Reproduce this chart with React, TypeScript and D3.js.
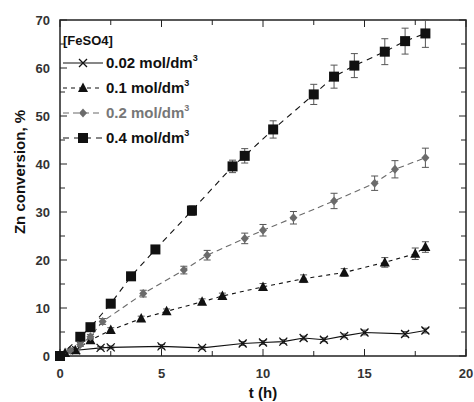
import React, {useEffect, useRef} from "react";
import * as d3 from "d3";

// t (h) and conversion (%)
const tX = [0, 0.8, 2, 2.5, 5, 7, 9, 10, 11, 12, 13, 14, 15, 17, 18];
const vX = [0, 1.2, 1.7, 1.8, 2.0, 1.7, 2.6, 2.8, 3.0, 3.75, 3.4, 4.2, 4.9, 4.6, 5.3];
const eX = [0, 0.3, 0.3, 0.3, 0.4, 0.3, 0.4, 0.4, 0.4, 0.4, 0.4, 0.4, 0.5, 0.5, 0.5];

const tTri = [0, 0.25, 0.75, 1.5, 2.5, 4, 5.25, 7, 8, 10, 12, 14, 16, 17.5, 18];
const vTri = [0, 0.6, 1.2, 3.3, 5.4, 7.8, 9.3, 11.3, 12.5, 14.4, 16.1, 17.4, 19.5, 21.3, 22.7];
const eTri = [0, 0.2, 0.3, 0.4, 0.5, 0.5, 0.5, 0.6, 0.6, 0.7, 0.8, 0.8, 1.0, 1.2, 1.1];

const tDia = [0, 0.5, 1, 1.5, 2.1, 4.1, 6.1, 7.25, 9.1, 10, 11.5, 13.5, 15.5, 16.5, 18];
const vDia = [0, 1.2, 2.4, 4.0, 7.2, 13.0, 17.9, 21.0, 24.5, 26.2, 28.8, 32.3, 36.0, 38.9, 41.3];
const eDia = [0, 0.3, 0.4, 0.5, 0.6, 0.7, 0.8, 1.0, 1.1, 1.2, 1.3, 1.6, 1.5, 1.8, 2.0];

const tSq = [0, 1, 1.5, 2.5, 3.5, 4.7, 6.5, 8.5, 9.1, 10.5, 12.5, 13.5, 14.5, 16, 17, 18];
const vSq = [0, 4.0, 6.0, 10.9, 16.6, 22.2, 30.3, 39.5, 41.7, 47.2, 54.5, 58.2, 60.5, 63.4, 65.6, 67.2];
const eSq = [0, 0.4, 0.5, 0.6, 0.7, 0.8, 1.0, 1.3, 1.5, 1.8, 2.1, 2.4, 2.5, 2.7, 2.7, 2.9];

const legendLabels = ["0.02", "0.1", "0.2", "0.4"];
const xTicks = [0, 5, 10, 15, 20];
const yTicks = [0, 10, 20, 30, 40, 50, 60, 70];

type Series = {t: number[]; v: number[]; e: number[]; marker: string; color: string; dash: string};

const series: Series[] = [
    {t: tX, v: vX, e: eX, marker: "x", color: "#111", dash: "none"},
    {t: tTri, v: vTri, e: eTri, marker: "tri", color: "#111", dash: "4,4"},
    {t: tDia, v: vDia, e: eDia, marker: "dia", color: "#6b6b6b", dash: "6,4"},
    {t: tSq, v: vSq, e: eSq, marker: "sq", color: "#111", dash: "6,5"},
];

const W = 474;
const H = 402;
const margin = {top: 20, right: 8, bottom: 46, left: 60};
const font = "'Liberation Sans', Arial, sans-serif";

function drawMarker(g: d3.Selection<SVGGElement, unknown, null, undefined>, kind: string, x: number, y: number, color: string) {
    if (kind === "sq") {
        g.append("rect").attr("x", x - 5).attr("y", y - 5).attr("width", 10).attr("height", 10).attr("fill", color);
    } else if (kind === "tri") {
        g.append("path").attr("d", `M${x},${y - 5.5}L${x + 5},${y + 4}L${x - 5},${y + 4}Z`).attr("fill", color);
    } else if (kind === "dia") {
        g.append("path").attr("d", `M${x},${y - 4.5}L${x + 4},${y}L${x},${y + 4.5}L${x - 4},${y}Z`).attr("fill", color);
    } else {
        g.append("path").attr("d", `M${x - 4},${y - 4}L${x + 4},${y + 4}M${x - 4},${y + 4}L${x + 4},${y - 4}`)
            .attr("stroke", color).attr("stroke-width", 1.3);
    }
}

function Chart() {
    const svgRef = useRef<SVGSVGElement | null>(null);

    useEffect(() => {
        if (!svgRef.current) return;
        const svgEl = d3.select(svgRef.current);
        svgEl.selectAll("*").remove();

        const x = d3.scaleLinear().domain([0, 20]).range([margin.left, W - margin.right]);
        const y = d3.scaleLinear().domain([0, 70]).range([H - margin.bottom, margin.top]);

        const root = svgEl.append("g");
        const x0 = x(0), x1 = x(20), y0 = y(0), y1 = y(70);

        // frame
        root.append("rect").attr("x", x0).attr("y", y1).attr("width", x1 - x0).attr("height", y0 - y1)
            .attr("fill", "none").attr("stroke", "#222").attr("stroke-width", 1.5);

        // ticks inward on all four sides
        const xMinor = d3.range(0, 20.01, 2.5);
        const yMinor = d3.range(0, 70.01, 5);
        xMinor.forEach((t) => {
            const len = t % 5 === 0 ? 7 : 5;
            root.append("line").attr("x1", x(t)).attr("x2", x(t)).attr("y1", y0).attr("y2", y0 - len).attr("stroke", "#222");
            root.append("line").attr("x1", x(t)).attr("x2", x(t)).attr("y1", y1).attr("y2", y1 + len).attr("stroke", "#222");
        });
        yMinor.forEach((v) => {
            const len = v % 10 === 0 ? 7 : 5;
            root.append("line").attr("x1", x0).attr("x2", x0 + len).attr("y1", y(v)).attr("y2", y(v)).attr("stroke", "#222");
            root.append("line").attr("x1", x1).attr("x2", x1 - len).attr("y1", y(v)).attr("y2", y(v)).attr("stroke", "#222");
        });

        root.selectAll(".xl").data(xTicks).enter().append("text")
            .attr("x", (d) => x(d)).attr("y", y0 + 22).attr("text-anchor", "middle")
            .attr("font-family", font).attr("font-weight", "bold").attr("font-size", 13).attr("fill", "#333")
            .text((d) => d);
        root.selectAll(".yl").data(yTicks).enter().append("text")
            .attr("x", x0 - 10).attr("y", (d) => y(d) + 5).attr("text-anchor", "end")
            .attr("font-family", font).attr("font-weight", "bold").attr("font-size", 13).attr("fill", "#333")
            .text((d) => d);

        root.append("text").attr("x", x(10)).attr("y", H - 4).attr("text-anchor", "middle")
            .attr("font-family", font).attr("font-weight", "bold").attr("font-size", 15).attr("fill", "#111")
            .text("t (h)");
        root.append("text").attr("transform", `translate(25, 172) rotate(-90)`).attr("text-anchor", "middle")
            .attr("font-family", font).attr("font-weight", "bold").attr("font-size", 15).attr("fill", "#111")
            .text("Zn conversion, %");

        // series
        series.forEach((s) => {
            const pts = s.t.map((t, i) => [t, s.v[i], s.e[i]]);
            const line = d3.line<number[]>().x((d) => x(d[0])).y((d) => y(d[1]));
            root.append("path").attr("d", line(pts)).attr("fill", "none").attr("stroke", s.color)
                .attr("stroke-width", 1.1).attr("stroke-dasharray", s.dash);
            const g = root.append("g");
            pts.forEach((d) => {
                if (d[2] > 0.25) {
                    const cx = x(d[0]);
                    g.append("path")
                        .attr("d", `M${cx},${y(d[1] - d[2])}V${y(d[1] + d[2])}M${cx - 3.5},${y(d[1] - d[2])}H${cx + 3.5}M${cx - 3.5},${y(d[1] + d[2])}H${cx + 3.5}`)
                        .attr("stroke", "#555").attr("stroke-width", 1).attr("fill", "none");
                }
                drawMarker(g, s.marker, x(d[0]), y(d[1]), s.color);
            });
        });

        // legend
        const lg = root.append("g");
        lg.append("text").attr("x", 63).attr("y", 45)
            .attr("font-family", font).attr("font-weight", "bold").attr("font-size", 13).attr("fill", "#111")
            .text("[FeSO4]");
        series.forEach((s, i) => {
            const ly = 63 + i * 25;
            lg.append("line").attr("x1", 63).attr("x2", 103).attr("y1", ly).attr("y2", ly)
                .attr("stroke", s.color).attr("stroke-width", 1.1).attr("stroke-dasharray", s.dash);
            drawMarker(lg, s.marker, 83, ly, s.color);
            const tx = lg.append("text").attr("x", 106).attr("y", ly + 5)
                .attr("font-family", font).attr("font-weight", "bold").attr("font-size", 15)
                .attr("fill", s.marker === "dia" ? "#777" : "#111");
            tx.append("tspan").text(`${legendLabels[i]} mol/dm`);
            tx.append("tspan").attr("font-size", 9).attr("dy", -7).text("3");
        });
    }, []);

    return <svg ref={svgRef} width={W} height={H} style={{position: "absolute", left: 0, top: 0, background: "#fff"}} />;
}

export default function App() {
    return <Chart />;
}
